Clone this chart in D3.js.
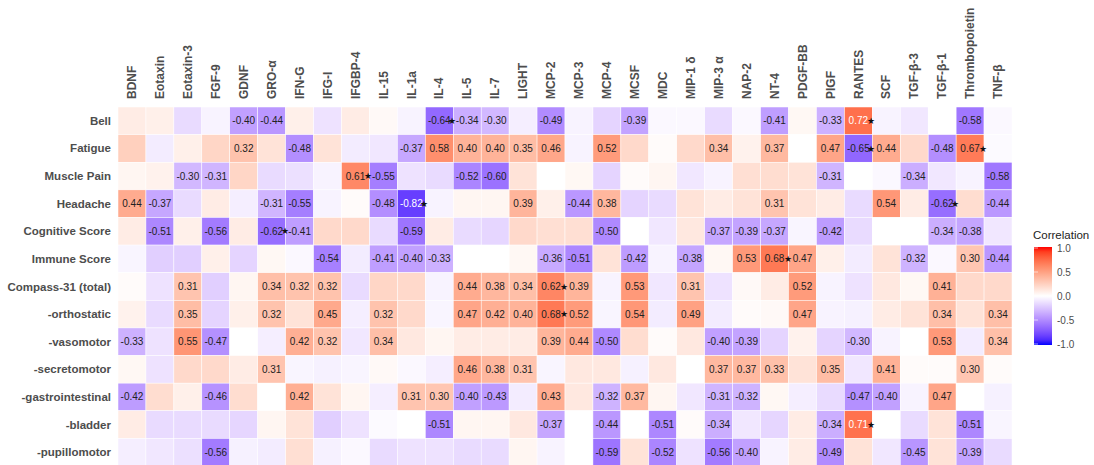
<!DOCTYPE html>
<html>
<head>
<meta charset="utf-8">
<script src="https://cdn.jsdelivr.net/npm/d3@7"></script>
<style>
  body { margin: 0; background: #fff; }
  text { font-family: "Liberation Sans", Arial, sans-serif; }
</style>
</head>
<body>
<div id="chart"></div>
<script>
// columns (cytokines) and rows (clinical scores)
var cytokines = ["BDNF","Eotaxin","Eotaxin-3","FGF-9","GDNF","GRO-\u03b1","IFN-G","IFG-I","IFGBP-4","IL-15","IL-1a","IL-4","IL-5","IL-7","LIGHT","MCP-2","MCP-3","MCP-4","MCSF","MDC","MIP-1 \u03b4","MIP-3 \u03b1","NAP-2","NT-4","PDGF-BB","PIGF","RANTES","SCF","TGF-\u03b2-3","TGF-\u03b2-1","Thrombopoietin","TNF-\u03b2"];
var scores = ["Bell","Fatigue","Muscle Pain","Headache","Cognitive Score","Immune Score","Compass-31 (total)","-orthostatic","-vasomotor","-secretomotor","-gastrointestinal","-bladder","-pupillomotor"];

// correlation values, one array per row
var bell        = [0.10,0.08,-0.15,-0.05,-0.40,-0.44,0.08,-0.12,0.10,0.03,-0.05,-0.64,-0.34,-0.30,-0.07,-0.49,-0.05,-0.18,-0.39,-0.03,-0.03,-0.15,-0.03,-0.41,0.04,-0.33,0.72,-0.05,-0.10,0.00,-0.58,-0.03];
var fatigue     = [0.25,-0.08,0.08,0.22,0.32,0.15,-0.48,0.15,-0.08,-0.10,-0.37,0.58,0.40,0.40,0.35,0.46,-0.05,0.52,0.20,0.02,0.20,0.34,0.07,0.37,0.00,0.47,-0.65,0.44,0.20,-0.48,0.67,-0.02];
var musclePain  = [0.05,0.07,-0.30,-0.31,0.22,-0.15,-0.13,-0.05,0.61,-0.55,-0.12,-0.15,-0.52,-0.60,0.15,0.00,0.04,-0.18,0.02,0.05,-0.10,-0.05,0.17,0.18,0.15,-0.31,0.00,-0.03,-0.34,-0.10,-0.05,-0.58];
var headache    = [0.44,-0.37,-0.15,0.10,-0.07,-0.31,-0.55,-0.05,0.02,-0.48,-0.82,-0.05,0.05,0.05,0.39,0.08,-0.44,0.38,-0.18,-0.15,0.15,0.10,0.15,0.31,0.15,0.10,-0.15,0.54,0.10,-0.62,0.18,-0.44];
var cognitive   = [0.10,-0.51,0.08,-0.56,0.10,-0.62,-0.41,0.20,0.20,-0.15,-0.59,0.10,-0.15,-0.17,0.20,0.17,0.17,-0.50,0.00,-0.10,0.12,-0.37,-0.39,-0.37,-0.04,-0.42,-0.15,0.00,0.00,-0.34,-0.38,-0.10];
var immune      = [-0.04,-0.20,-0.20,0.08,-0.18,0.04,-0.03,-0.54,-0.08,-0.41,-0.40,-0.33,0.00,0.00,0.04,-0.36,-0.51,0.15,-0.42,-0.05,-0.38,0.04,0.53,0.68,0.47,0.08,-0.08,0.15,-0.32,-0.03,0.30,-0.44];
var compass     = [0.02,-0.12,0.31,-0.20,0.05,0.34,0.32,0.32,-0.15,0.22,0.20,-0.05,0.44,0.38,0.34,0.62,0.39,-0.05,0.53,-0.10,0.31,-0.12,0.03,0.10,0.52,-0.05,-0.12,0.12,0.04,0.41,0.20,0.20];
var orthostatic = [0.07,-0.15,0.35,-0.18,0.08,0.32,0.15,0.45,-0.07,0.32,0.20,-0.04,0.47,0.42,0.40,0.68,0.52,-0.04,0.54,-0.08,0.49,-0.08,0.02,0.03,0.47,-0.05,-0.06,0.10,0.15,0.34,0.15,0.34];
var vasomotor   = [-0.33,-0.12,0.55,-0.47,0.00,-0.07,0.42,0.32,-0.10,0.34,0.12,0.05,0.10,0.10,0.10,0.39,0.44,-0.50,0.18,0.02,0.12,-0.40,-0.39,-0.18,0.07,-0.18,-0.30,-0.05,0.00,0.53,-0.08,0.34];
var secretomotor= [0.04,-0.12,0.20,0.20,0.10,0.31,-0.04,-0.06,-0.04,0.03,-0.03,-0.07,0.46,0.38,0.31,-0.04,0.12,0.12,-0.06,0.12,0.00,0.37,0.37,0.33,0.15,0.35,-0.10,0.41,0.02,0.02,0.30,0.02];
var gastro      = [-0.42,0.18,0.08,-0.46,0.18,0.00,0.42,0.15,0.05,-0.07,0.31,0.30,-0.40,-0.43,-0.08,0.43,0.12,-0.32,0.37,0.05,-0.10,-0.31,-0.32,0.04,-0.07,-0.15,-0.47,-0.40,-0.05,0.47,0.00,-0.06];
var bladder     = [0.10,-0.15,-0.15,-0.15,-0.17,0.05,0.15,-0.20,-0.12,-0.02,0.00,-0.51,0.05,0.05,0.12,-0.37,0.00,-0.44,0.00,-0.51,0.02,-0.34,-0.10,-0.17,0.10,-0.34,0.71,0.00,-0.15,0.15,-0.51,-0.04];
var pupillo     = [-0.07,-0.10,-0.13,-0.56,-0.06,-0.08,0.17,-0.06,-0.03,-0.15,-0.12,-0.12,-0.15,-0.15,0.05,-0.05,0.00,-0.59,0.15,-0.52,-0.12,-0.56,-0.40,-0.05,0.10,-0.49,0.15,-0.10,-0.45,0.15,-0.39,-0.15];

var rowValues = [bell,fatigue,musclePain,headache,cognitive,immune,compass,orthostatic,vasomotor,secretomotor,gastro,bladder,pupillo];

// significant cells, [row, column]
var significant = [[0,11],[0,26],[1,26],[1,30],[2,8],[3,10],[3,29],[4,5],[5,23],[6,15],[7,15],[11,26]];

var legendTicks = [1.0, 0.5, 0.0, -0.5, -1.0];

var W = 1094, H = 465;
var svg = d3.select('#chart').append('svg')
  .attr('width', W).attr('height', H);

var x = d3.scaleBand().domain(cytokines).range([118, 1012]);
var y = d3.scaleBand().domain(scores).range([107, 466]);

var color = d3.scaleLinear().domain([-1, 0, 1])
  .range(['#0000ff', '#ffffff', '#ff0000'])
  .interpolate(d3.interpolateLab);

var cells = [];
rowValues.forEach(function(vals, r){
  vals.forEach(function(v, c){
    cells.push({row: scores[r], col: cytokines[c], r: r, c: c, v: v});
  });
});
var sigKey = {};
significant.forEach(function(s){ sigKey[s[0] + '_' + s[1]] = true; });

// tiles
svg.append('g').selectAll('rect')
  .data(cells).enter().append('rect')
  .attr('x', function(d){ return x(d.col); })
  .attr('y', function(d){ return y(d.row); })
  .attr('width', x.bandwidth())
  .attr('height', y.bandwidth())
  .style('fill', function(d){ return color(d.v); })
  .style('stroke', '#fff')
  .style('stroke-width', 0.5);

// labels for |r| >= 0.3
var labelled = cells.filter(function(d){ return Math.abs(d.v) >= 0.3; });
svg.append('g').selectAll('text')
  .data(labelled).enter().append('text')
  .attr('x', function(d){ return x(d.col) + x.bandwidth()/2; })
  .attr('y', function(d){ return y(d.row) + y.bandwidth()/2; })
  .attr('text-anchor', 'middle')
  .attr('dy', '0.35em')
  .style('font-size', '10px')
  .style('fill', function(d){ return Math.abs(d.v) >= 0.7 ? '#fff' : '#222'; })
  .text(function(d){ return d.v.toFixed(2); });

// stars
svg.append('g').selectAll('text')
  .data(cells.filter(function(d){ return sigKey[d.r + '_' + d.c]; }))
  .enter().append('text')
  .attr('x', function(d){ return x(d.col) + x.bandwidth()/2 + 13; })
  .attr('y', function(d){ return y(d.row) + y.bandwidth()/2; })
  .attr('text-anchor', 'middle')
  .attr('dy', '0.35em')
  .style('font-size', '9px')
  .style('fill', '#111')
  .text('\u2605');

// row labels
svg.append('g').selectAll('text')
  .data(scores).enter().append('text')
  .attr('x', 111)
  .attr('y', function(d){ return y(d) + y.bandwidth()/2; })
  .attr('dy', '0.35em')
  .attr('text-anchor', 'end')
  .style('font-size', '11.5px')
  .style('font-weight', 'bold')
  .style('fill', '#4d4d4d')
  .text(function(d){ return d; });

// column labels
svg.append('g').selectAll('text')
  .data(cytokines).enter().append('text')
  .attr('transform', function(d){ return 'translate(' + (x(d) + x.bandwidth()/2) + ',99) rotate(-90)'; })
  .attr('dy', '0.35em')
  .attr('text-anchor', 'start')
  .style('font-size', '12px')
  .style('font-weight', 'bold')
  .style('fill', '#4d4d4d')
  .text(function(d){ return d; });

// legend
var ly = d3.scaleLinear().domain([-1, 1]).range([344, 248]);
var defs = svg.append('defs');
var grad = defs.append('linearGradient').attr('id', 'lg')
  .attr('x1', 0).attr('y1', 1).attr('x2', 0).attr('y2', 0);
d3.range(-1, 1.01, 0.1).forEach(function(t){
  grad.append('stop').attr('offset', ((t + 1) / 2 * 100) + '%').attr('stop-color', color(t));
});
svg.append('text').attr('x', 1033).attr('y', 239)
  .style('font-size', '11.5px').style('fill', '#222').text('Correlation');
svg.append('rect').attr('x', 1034).attr('y', ly(1) - 1)
  .attr('width', 18).attr('height', ly(-1) - ly(1) + 2)
  .style('fill', 'url(#lg)');
svg.append('g').selectAll('line')
  .data(legendTicks).enter().append('line')
  .attr('x1', 1034).attr('x2', 1038)
  .attr('y1', function(d){ return ly(d); }).attr('y2', function(d){ return ly(d); })
  .style('stroke', '#fff').style('stroke-width', 0.6);
svg.append('g').selectAll('text')
  .data(legendTicks).enter().append('text')
  .attr('x', 1057)
  .attr('y', function(d){ return ly(d); })
  .attr('dy', '0.35em')
  .style('font-size', '10px')
  .style('fill', '#4d4d4d')
  .text(function(d){ return d.toFixed(1); });
</script>
</body>
</html>
